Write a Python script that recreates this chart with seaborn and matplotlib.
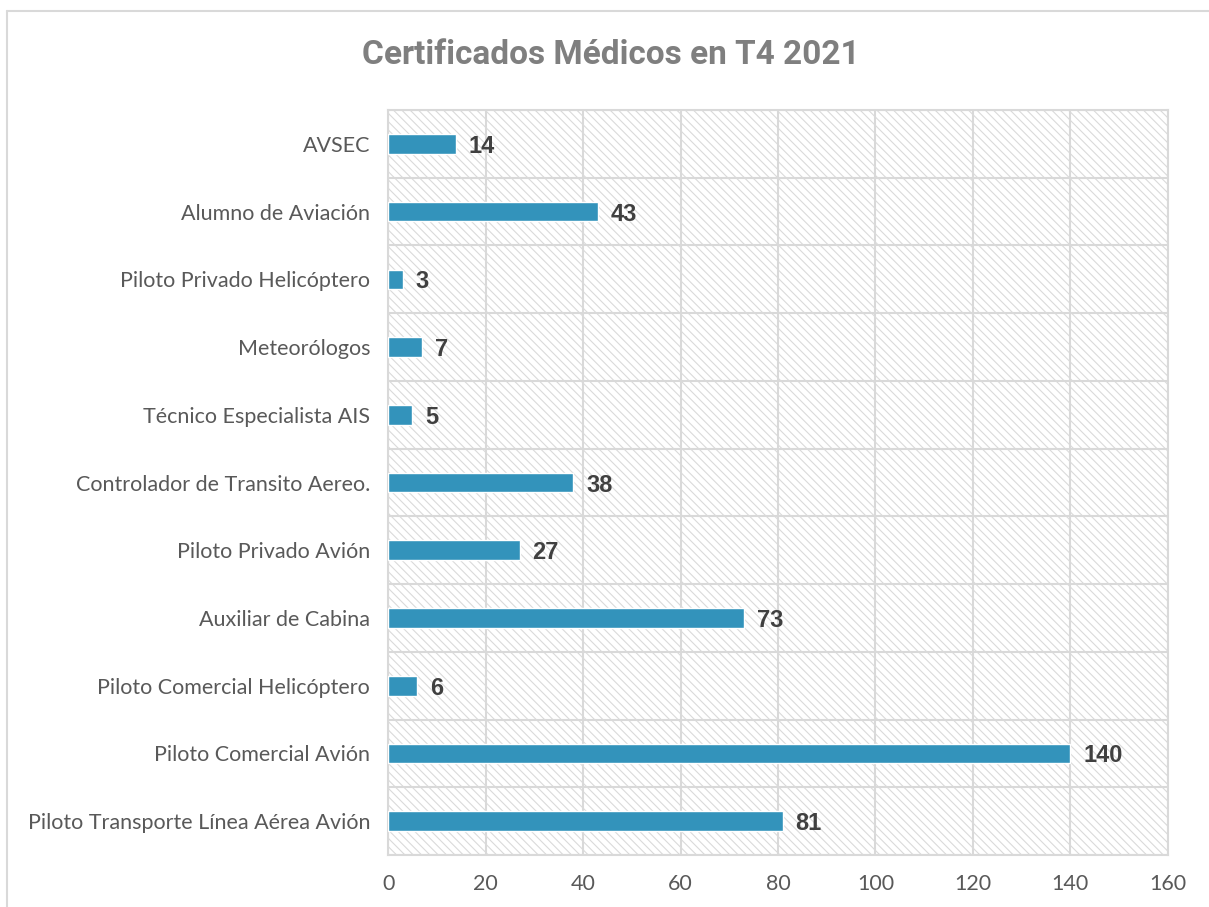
import matplotlib
matplotlib.use("Agg")
import matplotlib.pyplot as plt
import seaborn as sns
import pandas as pd
from matplotlib.patches import Rectangle
from matplotlib.lines import Line2D
from matplotlib.ticker import MultipleLocator, FixedLocator

categorias = [
    "AVSEC",
    "Alumno de Aviación",
    "Piloto Privado Helicóptero",
    "Meteorólogos",
    "Técnico Especialista AIS",
    "Controlador de Transito Aereo.",
    "Piloto Privado Avión",
    "Auxiliar de Cabina",
    "Piloto Comercial Helicóptero",
    "Piloto Comercial Avión",
    "Piloto Transporte Línea Aérea Avión",
]
valores = [14, 43, 3, 7, 5, 38, 27, 73, 6, 140, 81]

df = pd.DataFrame({"categoria": categorias, "valor": valores})

sns.set_theme(style="white")
plt.rcParams["font.family"] = ["Lato", "DejaVu Sans"]
plt.rcParams["hatch.linewidth"] = 0.8

fig = plt.figure(figsize=(12.09, 9.07), dpi=100)
ax = fig.add_axes([0.321, 0.0573, 0.645, 0.8214])

# fondo rayado
ax.add_patch(Rectangle((0, 0), 1, 1, transform=ax.transAxes, facecolor="white",
                       edgecolor="#DADADA", hatch="\\\\\\\\", linewidth=0, zorder=0))

sns.barplot(data=df, x="valor", y="categoria", color="#3393BB", width=0.29,
            saturation=1, ax=ax, zorder=3)

ax.set_xlim(0, 160)
ax.set_ylim(len(categorias) - 0.5, -0.5)
ax.xaxis.set_major_locator(MultipleLocator(20))
ax.yaxis.set_minor_locator(FixedLocator([i - 0.5 for i in range(len(categorias) + 1)]))
ax.grid(axis="x", which="major", color="#D9D9D9", linewidth=1.5, zorder=1)
ax.grid(axis="y", which="minor", color="#D9D9D9", linewidth=1.5, zorder=1)
ax.set_axisbelow(True)
for s in ax.spines.values():
    s.set_color("#D9D9D9")
    s.set_linewidth(1.5)
ax.tick_params(axis="both", which="both", length=0)
ax.tick_params(axis="y", labelsize=15.5, labelcolor="#595959", pad=13)
ax.tick_params(axis="x", labelsize=15.5, labelcolor="#595959", pad=14)
ax.set_xlabel("")
ax.set_ylabel("")

for i, v in enumerate(valores):
    ax.text(v + 2.6, i, str(v), va="center_baseline", ha="left", fontsize=17,
            fontweight="bold", color="#404040", family=["Liberation Sans", "DejaVu Sans"])

fig.text(0.505, 0.939, "Certificados Médicos en T4 2021", ha="center", va="center",
         fontsize=24, fontweight="bold", color="#7F7F7F",
         family=["Roboto", "DejaVu Sans"], fontstretch="condensed")

# marco exterior
fig.add_artist(Line2D([0.0055, 0.0055], [0.0, 0.9875], transform=fig.transFigure,
                      color="#D9D9D9", linewidth=1.5))
fig.add_artist(Line2D([0.0055, 1.0], [0.9875, 0.9875], transform=fig.transFigure,
                      color="#D9D9D9", linewidth=1.5))

fig.savefig("out.png", dpi=100)
